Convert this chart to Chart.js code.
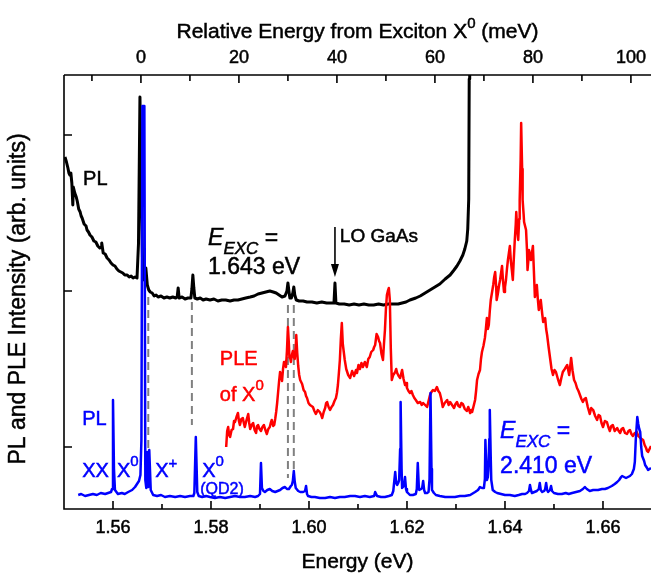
<!DOCTYPE html>
<html>
<head>
<meta charset="utf-8">
<script src="https://cdn.jsdelivr.net/npm/chart.js@4.4.0/dist/chart.umd.min.js"></script>
<style>
  html, body { margin: 0; padding: 0; background: #fff; }
  #wrap { width: 651px; height: 573px; }
</style>
</head>
<body>
<div id="wrap"><canvas id="chart" width="651" height="573"></canvas></div>
<script>
// PL excited at 1.643 eV (upper, black): [energy eV, intensity]
const plNearRes = [
  [1.5502,352],[1.5505,347],[1.5508,341],[1.5510,336],[1.5512,334],[1.5514,336],[1.5516,326],[1.5518,304],
  [1.5519,322],[1.5522,316],[1.5525,312],[1.5527,308],[1.5530,300],[1.5533,297],[1.5535,293],[1.5537,291],
  [1.5541,285],[1.5545,283],[1.5547,279],[1.5550,277],[1.5553,274],[1.5557,272],[1.5561,268],[1.5565,267],
  [1.5569,263],[1.5573,261],[1.5576,262],[1.5577,266],[1.5580,256],[1.5584,255],[1.5588,251],[1.5592,249],
  [1.5596,246],[1.5600,244],[1.5604,243],[1.5608,240],[1.5612,238],[1.5616,237],[1.5620,236],[1.5624,234],
  [1.5629,234],[1.5633,232],[1.5637,233],[1.5641,231],[1.5645,232],[1.5649,231],[1.5652,265],[1.5655,412],
  [1.5658,309],[1.5661,229],[1.5664,234],[1.5667,241],[1.5670,224],[1.5673,219],[1.5676,217],[1.5680,216],
  [1.5684,213],[1.5688,214],[1.5692,212],[1.5698,213],[1.5704,211],[1.5710,212],[1.5716,211],[1.5722,212],
  [1.5728,211],[1.5731,212],[1.5733,221],[1.5735,211],[1.5741,212],[1.5747,210],[1.5753,211],[1.5759,211],
  [1.5761,220],[1.5763,234],[1.5765,221],[1.5767,211],[1.5772,210],[1.5778,211],[1.5784,209],[1.5790,210],
  [1.5798,209],[1.5806,210],[1.5814,208],[1.5822,209],[1.5830,209],[1.5839,208],[1.5847,209],[1.5855,209],
  [1.5863,210],[1.5871,211],[1.5880,212],[1.5888,213],[1.5896,215],[1.5904,216],[1.5912,217],[1.5920,218],
  [1.5927,217],[1.5933,216],[1.5939,214],[1.5945,212],[1.5951,213],[1.5955,218],[1.5957,226],[1.5959,218],
  [1.5961,211],[1.5964,211],[1.5967,216],[1.5969,222],[1.5971,214],[1.5974,209],[1.5980,208],[1.5988,208],
  [1.5996,207],[1.6006,207],[1.6016,206],[1.6026,207],[1.6036,206],[1.6046,206],[1.6051,206],[1.6053,226],
  [1.6055,206],[1.6062,205],[1.6072,205],[1.6082,204],[1.6092,205],[1.6102,204],[1.6112,205],[1.6122,204],
  [1.6132,204],[1.6142,205],[1.6152,204],[1.6162,205],[1.6172,205],[1.6182,205],[1.6190,206],[1.6198,207],
  [1.6206,209],[1.6218,211],[1.6227,213],[1.6237,216],[1.6247,219],[1.6257,222],[1.6267,225],[1.6278,230],
  [1.6288,234],[1.6296,239],[1.6302,243],[1.6308,248],[1.6314,254],[1.6318,260],[1.6322,268],[1.6324,280],
  [1.6326,310],[1.6327,430],[1.6328,520]
];

// PLE of X0 (middle, red)
const pleX0 = [
  [1.5831,62],[1.5833,78],[1.5835,82],[1.5837,74],[1.5839,72],[1.5842,79],[1.5845,80],[1.5847,88],
  [1.5849,87],[1.5852,92],[1.5855,96],[1.5857,88],[1.5859,84],[1.5862,90],[1.5865,91],[1.5867,86],
  [1.5869,82],[1.5872,88],[1.5876,95],[1.5878,86],[1.5880,80],[1.5883,84],[1.5886,86],[1.5889,79],
  [1.5892,76],[1.5894,83],[1.5896,84],[1.5899,80],[1.5902,78],[1.5905,82],[1.5908,84],[1.5911,79],
  [1.5914,75],[1.5917,80],[1.5920,82],[1.5922,86],[1.5924,89],[1.5927,83],[1.5929,84],[1.5931,90],
  [1.5933,97],[1.5935,106],[1.5937,117],[1.5939,128],[1.5941,137],[1.5943,133],[1.5945,128],[1.5947,140],
  [1.5949,147],[1.5951,145],[1.5953,142],[1.5955,158],[1.5957,182],[1.5959,165],[1.5960,152],[1.5962,150],
  [1.5963,147],[1.5965,154],[1.5967,158],[1.5969,152],[1.5971,150],[1.5973,162],[1.5974,174],[1.5976,156],
  [1.5978,143],[1.5980,134],[1.5982,129],[1.5984,127],[1.5986,125],[1.5989,119],[1.5992,117],[1.5994,113],
  [1.5996,111],[1.5999,106],[1.6002,104],[1.6005,103],[1.6008,102],[1.6011,98],[1.6014,95],[1.6018,99],
  [1.6022,97],[1.6025,94],[1.6027,91],[1.6030,97],[1.6033,101],[1.6035,106],[1.6037,107],[1.6040,102],
  [1.6043,99],[1.6046,102],[1.6049,104],[1.6052,108],[1.6055,111],[1.6057,116],[1.6059,124],[1.6061,136],
  [1.6063,149],[1.6065,170],[1.6067,186],[1.6069,165],[1.6071,157],[1.6073,149],[1.6076,140],[1.6080,134],
  [1.6084,131],[1.6088,138],[1.6092,133],[1.6096,139],[1.6098,136],[1.6101,144],[1.6104,140],[1.6107,146],
  [1.6110,142],[1.6114,147],[1.6118,142],[1.6121,150],[1.6124,152],[1.6127,157],[1.6131,159],[1.6133,162],
  [1.6135,164],[1.6138,175],[1.6141,172],[1.6143,168],[1.6145,166],[1.6148,155],[1.6151,149],[1.6153,165],
  [1.6155,179],[1.6157,200],[1.6159,214],[1.6161,218],[1.6163,221],[1.6165,209],[1.6167,160],[1.6169,129],
  [1.6172,134],[1.6176,137],[1.6178,140],[1.6180,136],[1.6183,133],[1.6186,131],[1.6188,135],[1.6190,139],
  [1.6193,130],[1.6196,124],[1.6198,126],[1.6200,121],[1.6203,118],[1.6206,116],[1.6209,118],[1.6212,114],
  [1.6215,111],[1.6218,109],[1.6222,106],[1.6227,107],[1.6230,104],[1.6233,106],[1.6237,104],[1.6241,102],
  [1.6244,108],[1.6247,114],[1.6250,117],[1.6253,119],[1.6257,118],[1.6261,122],[1.6264,118],[1.6267,116],
  [1.6270,110],[1.6273,102],[1.6277,106],[1.6282,109],[1.6285,104],[1.6288,107],[1.6292,104],[1.6296,101],
  [1.6299,105],[1.6302,107],[1.6305,103],[1.6308,102],[1.6311,106],[1.6314,105],[1.6318,100],[1.6322,98],
  [1.6325,102],[1.6329,96],[1.6331,99],[1.6333,97],[1.6336,103],[1.6339,109],[1.6341,118],[1.6343,129],
  [1.6346,135],[1.6349,139],[1.6351,150],[1.6353,157],[1.6356,163],[1.6359,171],[1.6361,180],[1.6363,191],
  [1.6365,180],[1.6367,184],[1.6369,198],[1.6371,209],[1.6373,215],[1.6376,224],[1.6378,232],[1.6380,237],
  [1.6382,222],[1.6383,209],[1.6385,214],[1.6386,217],[1.6388,224],[1.6390,229],[1.6392,236],[1.6394,243],
  [1.6396,228],[1.6398,217],[1.6400,222],[1.6402,229],[1.6404,240],[1.6406,249],[1.6408,256],[1.6410,263],
  [1.6412,248],[1.6414,239],[1.6416,229],[1.6418,250],[1.6420,269],[1.6422,285],[1.6423,297],[1.6425,280],
  [1.6427,269],[1.6429,290],[1.6430,309],[1.6432,350],[1.6433,386],[1.6435,340],[1.6436,309],[1.6438,295],
  [1.6439,287],[1.6441,283],[1.6443,279],[1.6445,258],[1.6446,239],[1.6448,250],[1.6449,259],[1.6451,255],
  [1.6453,249],[1.6455,256],[1.6457,263],[1.6459,238],[1.6461,212],[1.6463,218],[1.6465,224],[1.6467,210],
  [1.6469,199],[1.6471,204],[1.6473,209],[1.6476,195],[1.6478,187],[1.6480,189],[1.6482,191],[1.6484,180],
  [1.6486,174],[1.6489,162],[1.6492,151],[1.6495,140],[1.6498,134],[1.6501,139],[1.6504,137],[1.6508,130],
  [1.6512,124],[1.6515,131],[1.6518,137],[1.6522,140],[1.6527,144],[1.6529,139],[1.6531,134],[1.6533,142],
  [1.6535,151],[1.6538,138],[1.6541,129],[1.6544,126],[1.6547,121],[1.6550,118],[1.6553,114],[1.6556,110],
  [1.6559,107],[1.6562,110],[1.6565,111],[1.6569,102],[1.6573,95],[1.6576,101],[1.6580,99],[1.6584,93],
  [1.6588,89],[1.6591,94],[1.6594,93],[1.6597,86],[1.6600,82],[1.6604,88],[1.6608,87],[1.6611,82],
  [1.6614,78],[1.6617,83],[1.6620,84],[1.6624,78],[1.6629,81],[1.6632,78],[1.6635,76],[1.6638,80],
  [1.6641,81],[1.6645,76],[1.6649,75],[1.6652,78],[1.6655,79],[1.6658,75],[1.6661,73],[1.6665,76],
  [1.6669,77],[1.6672,73],[1.6676,71],[1.6679,70],[1.6682,69],[1.6685,64],[1.6688,61],[1.6690,58],
  [1.6692,57],[1.6695,60],[1.6698,63]
];

// PL excited at 2.410 eV (lower, blue)
const plAbove = [
  [1.5529,14],[1.5535,15],[1.5543,13],[1.5551,14],[1.5559,15],[1.5567,14],[1.5575,16],[1.5584,15],
  [1.5590,16],[1.5596,17],[1.5598,20],[1.5600,109],[1.5602,40],[1.5604,19],[1.5610,15],[1.5618,16],
  [1.5624,15],[1.5631,17],[1.5639,19],[1.5645,22],[1.5649,25],[1.5653,28],[1.5656,34],[1.5658,69],
  [1.5660,403],[1.5664,403],[1.5666,29],[1.5668,21],[1.5670,57],[1.5672,22],[1.5674,59],[1.5677,19],
  [1.5682,14],[1.5690,13],[1.5698,14],[1.5706,12],[1.5716,13],[1.5727,12],[1.5737,13],[1.5747,12],
  [1.5757,13],[1.5764,13],[1.5766,16],[1.5769,72],[1.5772,17],[1.5775,13],[1.5782,12],[1.5790,13],
  [1.5798,12],[1.5808,11],[1.5818,12],[1.5829,11],[1.5839,12],[1.5849,13],[1.5859,12],[1.5869,12],
  [1.5880,13],[1.5890,12],[1.5896,13],[1.5900,15],[1.5902,46],[1.5904,21],[1.5907,18],[1.5910,17],
  [1.5915,19],[1.5920,20],[1.5925,18],[1.5931,17],[1.5936,18],[1.5941,19],[1.5946,21],[1.5951,22],
  [1.5955,20],[1.5959,20],[1.5963,23],[1.5965,24],[1.5967,28],[1.5969,38],[1.5971,27],[1.5973,21],
  [1.5978,18],[1.5982,17],[1.5988,17],[1.5992,18],[1.5994,23],[1.5996,15],[1.5998,13],[1.6005,12],
  [1.6012,12],[1.6022,11],[1.6033,11],[1.6043,12],[1.6053,11],[1.6063,12],[1.6073,12],[1.6084,13],
  [1.6094,13],[1.6104,12],[1.6114,13],[1.6124,12],[1.6133,13],[1.6135,17],[1.6139,13],[1.6147,12],
  [1.6155,12],[1.6163,13],[1.6169,14],[1.6172,18],[1.6176,37],[1.6178,26],[1.6180,24],[1.6182,26],
  [1.6184,29],[1.6186,60],[1.6187,107],[1.6189,40],[1.6190,21],[1.6192,22],[1.6194,25],[1.6196,32],
  [1.6198,20],[1.6200,17],[1.6206,14],[1.6212,14],[1.6218,15],[1.6220,20],[1.6222,46],[1.6224,24],
  [1.6225,19],[1.6229,20],[1.6231,21],[1.6233,28],[1.6235,19],[1.6237,16],[1.6241,16],[1.6244,17],
  [1.6246,30],[1.6248,116],[1.6250,40],[1.6251,19],[1.6255,16],[1.6259,14],[1.6267,13],[1.6278,12],
  [1.6288,12],[1.6298,12],[1.6308,13],[1.6318,13],[1.6329,14],[1.6339,17],[1.6345,19],[1.6349,22],
  [1.6353,21],[1.6357,21],[1.6359,30],[1.6360,69],[1.6362,40],[1.6363,29],[1.6365,32],[1.6366,39],
  [1.6368,70],[1.6369,99],[1.6371,50],[1.6372,29],[1.6375,19],[1.6380,17],[1.6384,16],[1.6392,15],
  [1.6400,14],[1.6410,14],[1.6420,13],[1.6428,14],[1.6435,15],[1.6441,15],[1.6445,16],[1.6449,18],
  [1.6451,24],[1.6453,19],[1.6455,16],[1.6460,17],[1.6465,18],[1.6469,20],[1.6471,26],[1.6473,19],
  [1.6476,17],[1.6480,18],[1.6482,20],[1.6484,26],[1.6486,19],[1.6488,17],[1.6492,19],[1.6494,23],
  [1.6496,18],[1.6500,16],[1.6508,15],[1.6516,15],[1.6524,16],[1.6530,15],[1.6537,16],[1.6545,17],
  [1.6553,18],[1.6559,20],[1.6563,22],[1.6567,20],[1.6573,18],[1.6580,19],[1.6590,19],[1.6598,20],
  [1.6604,20],[1.6610,21],[1.6614,22],[1.6618,23],[1.6624,25],[1.6629,27],[1.6633,29],[1.6637,32],
  [1.6639,33],[1.6643,32],[1.6647,31],[1.6651,32],[1.6655,33],[1.6659,35],[1.6663,40],[1.6665,47],
  [1.6667,70],[1.6670,92],[1.6672,85],[1.6674,80],[1.6676,77],[1.6678,62],[1.6680,53],[1.6684,48],
  [1.6686,44],[1.6690,41],[1.6692,39],[1.6698,41]
];

// axes
const energyRange = [1.55, 1.6698];
const x0Energy = 1.5657;                 // X0 line, zero of the top axis
const energyTicks = [1.56, 1.58, 1.60, 1.62, 1.64, 1.66];
const energyMinor = [1.57, 1.59, 1.61, 1.63, 1.65];
const relTicks = [0, 20, 40, 60, 80, 100];
const relMinor = [-10, 10, 30, 50, 70, 90];
const intensityRange = [0, 434];
const intensityTicks = [62, 218, 374];

// dashed guides from PL peaks to the lower spectrum
const guideEnergy = [1.5672, 1.5761, 1.5957, 1.5969];
const guideTop = [212, 207, 204, 204];
const guideBottom = [49, 84, 31, 31];

const FONT = '"Liberation Sans", Arial, Helvetica, sans-serif';
function font(size, italic) {
  return (italic ? "italic " : "") + size + "px " + FONT;
}

// parts: [text, size, dy, italic]; a thin stroke gives the heavier print look
function drawRich(ctx, x, y, parts, align) {
  let w = 0;
  parts.forEach(p => { ctx.font = font(p[1], p[3]); w += ctx.measureText(p[0]).width; });
  let cx = align === "center" ? x - w / 2 : x;
  ctx.strokeStyle = ctx.fillStyle;
  ctx.lineWidth = 0.5;
  ctx.setLineDash([]);
  parts.forEach(p => {
    ctx.font = font(p[1], p[3]);
    ctx.fillText(p[0], cx, y + (p[2] || 0));
    ctx.strokeText(p[0], cx, y + (p[2] || 0));
    cx += ctx.measureText(p[0]).width;
  });
}

const labels = [
  { e: 1.5539, v: 324, color: "#000", parts: [["PL", 20]] },
  { e: 1.5794, v: 264, color: "#000", parts: [["E", 23, 0, true], ["EXC", 17, 9, true], [" =", 23]] },
  { e: 1.5794, v: 235, color: "#000", parts: [["1.643 eV", 23]] },
  { e: 1.6063, v: 267, color: "#000", parts: [["LO GaAs", 19]] },
  { e: 1.5818, v: 144, color: "#ff0000", parts: [["PLE", 20]] },
  { e: 1.5818, v: 108, color: "#ff0000", parts: [["of X", 20], ["0", 15, -11]] },
  { e: 1.5537, v: 84, color: "#0000ff", parts: [["PL", 20]] },
  { e: 1.5537, v: 32, color: "#0000ff", parts: [["XX", 20]] },
  { e: 1.5608, v: 32, color: "#0000ff", parts: [["X", 20], ["0", 15, -11]] },
  { e: 1.5686, v: 32, color: "#0000ff", parts: [["X", 20], ["+", 15, -9]] },
  { e: 1.5782, v: 32, color: "#0000ff", parts: [["X", 20], ["0", 15, -11]] },
  { e: 1.5778, v: 15, color: "#0000ff", parts: [["(QD2)", 16]] },
  { e: 1.6390, v: 71, color: "#0000ff", parts: [["E", 23, 0, true], ["EXC", 17, 9, true], [" =", 23]] },
  { e: 1.6390, v: 36, color: "#0000ff", parts: [["2.410 eV", 23]] }
];
const loArrow = { e: 1.6053, from: 282, to: 232 };

const toPoints = arr => arr.map(p => ({ x: p[0], y: p[1] }));

const framePlugin = {
  id: "frame",
  beforeDatasetsDraw(chart) {
    const { ctx, scales: { x, y } } = chart;
    ctx.save();
    ctx.strokeStyle = "#808080";
    ctx.lineWidth = 2;
    ctx.setLineDash([8, 5]);
    guideEnergy.forEach((e, i) => {
      const px = x.getPixelForValue(e);
      ctx.beginPath();
      ctx.moveTo(px, y.getPixelForValue(guideTop[i]));
      ctx.lineTo(px, y.getPixelForValue(guideBottom[i]));
      ctx.stroke();
    });
    ctx.restore();
  },
  afterDraw(chart) {
    const { ctx, chartArea: a, scales: { x, x2, y } } = chart;
    ctx.save();
    ctx.strokeStyle = "#000";
    ctx.fillStyle = "#000";
    ctx.lineWidth = 1.6;

    // frame lines (no right edge: the plot runs past the picture)
    ctx.beginPath();
    ctx.moveTo(a.left, a.top); ctx.lineTo(a.right, a.top);
    ctx.moveTo(a.left, a.top); ctx.lineTo(a.left, a.bottom);
    ctx.lineTo(a.right, a.bottom);
    ctx.stroke();

    // inward ticks
    ctx.beginPath();
    energyTicks.forEach(v => { const p = x.getPixelForValue(v); ctx.moveTo(p, a.bottom); ctx.lineTo(p, a.bottom - 8); });
    energyMinor.forEach(v => { const p = x.getPixelForValue(v); ctx.moveTo(p, a.bottom); ctx.lineTo(p, a.bottom - 5); });
    relTicks.forEach(v => { const p = x2.getPixelForValue(v); ctx.moveTo(p, a.top); ctx.lineTo(p, a.top + 8); });
    relMinor.forEach(v => { const p = x2.getPixelForValue(v); ctx.moveTo(p, a.top); ctx.lineTo(p, a.top + 6); });
    intensityTicks.forEach(v => { const p = y.getPixelForValue(v); ctx.moveTo(a.left, p); ctx.lineTo(a.left + 8, p); });
    ctx.stroke();

    // tick labels
    ctx.textBaseline = "alphabetic";
    ctx.textAlign = "left";
    energyTicks.forEach(v => drawRich(ctx, x.getPixelForValue(v), a.bottom + 24, [[v.toFixed(2), 18]], "center"));
    relTicks.forEach(v => drawRich(ctx, x2.getPixelForValue(v), a.top - 12, [[String(v), 18]], "center"));

    // axis titles
    const mid = (a.left + a.right) / 2;
    drawRich(ctx, mid, a.bottom + 59, [["Energy (eV)", 21]], "center");
    drawRich(ctx, mid, 38, [["Relative Energy from Exciton X", 21], ["0", 15, -10], [" (meV)", 21]], "center");
    ctx.save();
    ctx.translate(19, (a.top + a.bottom) / 2 + 7);
    ctx.rotate(-Math.PI / 2);
    ctx.textBaseline = "middle";
    drawRich(ctx, 0, 0, [["PL and PLE Intensity (arb. units)", 23]], "center");
    ctx.restore();

    // annotations
    labels.forEach(l => {
      ctx.fillStyle = l.color;
      drawRich(ctx, x.getPixelForValue(l.e), y.getPixelForValue(l.v), l.parts);
    });

    // LO phonon arrow
    ctx.fillStyle = "#000";
    ctx.strokeStyle = "#000";
    ctx.lineWidth = 1.6;
    const ax = x.getPixelForValue(loArrow.e);
    const ay0 = y.getPixelForValue(loArrow.from);
    const ay1 = y.getPixelForValue(loArrow.to);
    ctx.beginPath();
    ctx.moveTo(ax, ay0); ctx.lineTo(ax, ay1 - 10);
    ctx.stroke();
    ctx.beginPath();
    ctx.moveTo(ax, ay1); ctx.lineTo(ax - 4, ay1 - 13); ctx.lineTo(ax + 4, ay1 - 13);
    ctx.closePath();
    ctx.fill();
    ctx.restore();
  }
};

new Chart(document.getElementById("chart"), {
  type: "scatter",
  data: {
    datasets: [
      { label: "PL (2.410 eV)", data: toPoints(plAbove), borderColor: "#0000ff", borderWidth: 2.5 },
      { label: "PLE of X0", data: toPoints(pleX0), borderColor: "#ff0000", borderWidth: 2.5 },
      { label: "PL (1.643 eV)", data: toPoints(plNearRes), borderColor: "#000000", borderWidth: 3 }
    ].map(d => Object.assign(d, {
      showLine: true, pointRadius: 0, pointHoverRadius: 0, tension: 0,
      borderJoinStyle: "round", fill: false, clip: 0
    }))
  },
  options: {
    responsive: false,
    animation: false,
    devicePixelRatio: 1,
    layout: { padding: { left: 64, top: 75, right: 0, bottom: 64 } },
    plugins: { legend: { display: false }, tooltip: { enabled: false } },
    events: [],
    scales: {
      x: { type: "linear", display: false, min: energyRange[0], max: energyRange[1] },
      x2: {
        type: "linear", display: false, position: "top",
        min: (energyRange[0] - x0Energy) * 1000,
        max: (energyRange[1] - x0Energy) * 1000
      },
      y: { type: "linear", display: false, min: intensityRange[0], max: intensityRange[1] }
    }
  },
  plugins: [framePlugin]
});
</script>
</body>
</html>
